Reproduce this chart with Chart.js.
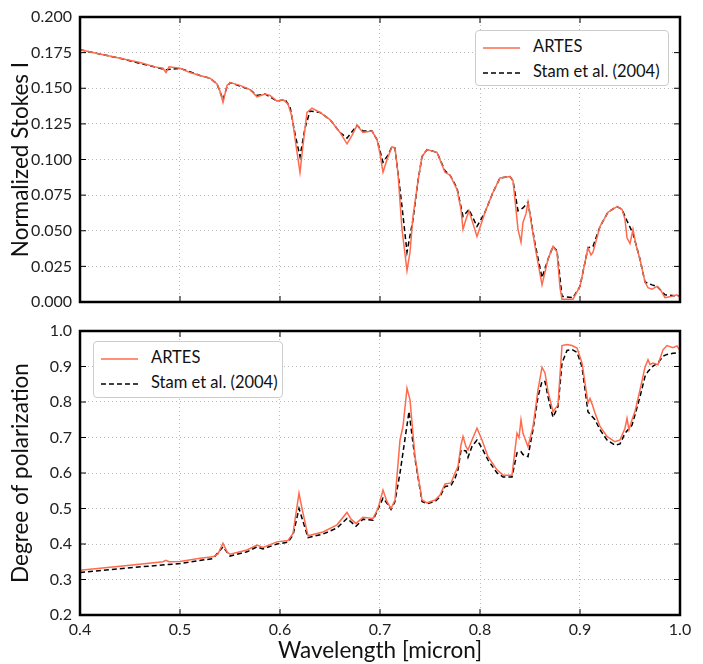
<!DOCTYPE html>
<html>
<head>
<meta charset="utf-8">
<script src="https://cdn.jsdelivr.net/npm/chart.js@4"></script>
<style>
  body { margin: 0; background: #fff; font-family: Lato, sans-serif; }
  #wrap { position: relative; width: 703px; height: 664px; }
  .panel { position: absolute; left: 0; width: 703px; }
  .legend { position: absolute; background: #fff; border: 1px solid #ccc; border-radius: 4px; white-space: nowrap;
            font-size: 16.5px; color: #111; padding: 3px 6px 3px 7px; line-height: 25px; box-sizing: border-box; }
  .legend svg { vertical-align: middle; margin-right: 13px; }
</style>
</head>
<body>
<div id="wrap">
  <div class="panel" style="top:0;height:310px"><canvas id="stokesChart"></canvas></div>
  <div class="panel" style="top:320px;height:344px"><canvas id="polChart"></canvas></div>
  <div class="legend" style="left:475px;top:30px;width:194px;height:56px">
    <div><svg width="37" height="4"><line x1="0" y1="2" x2="37" y2="2" stroke="#ff6a4d" stroke-width="1.5"/></svg>ARTES</div>
    <div><svg width="37" height="4"><line x1="0" y1="2" x2="37" y2="2" stroke="#000" stroke-width="1.5" stroke-dasharray="5,3"/></svg>Stam et al. (2004)</div>
  </div>
  <div class="legend" style="left:93px;top:341px;width:190px;height:57px">
    <div><svg width="37" height="4"><line x1="0" y1="2" x2="37" y2="2" stroke="#ff6a4d" stroke-width="1.5"/></svg>ARTES</div>
    <div><svg width="37" height="4"><line x1="0" y1="2" x2="37" y2="2" stroke="#000" stroke-width="1.5" stroke-dasharray="5,3"/></svg>Stam et al. (2004)</div>
  </div>
</div>
<script>
// Top panel: normalized Stokes I
const stokesArtesX = [0.400,0.420,0.440,0.460,0.475,0.483,0.486,0.489,0.500,0.510,0.520,0.530,0.537,0.540,0.543,0.547,0.550,0.560,0.570,0.577,0.585,0.590,0.597,0.603,0.608,0.612,0.616,0.620,0.623,0.627,0.632,0.640,0.650,0.660,0.667,0.672,0.677,0.683,0.692,0.697,0.700,0.703,0.707,0.712,0.715,0.718,0.722,0.727,0.730,0.733,0.738,0.742,0.747,0.757,0.765,0.770,0.777,0.781,0.783,0.786,0.789,0.793,0.797,0.805,0.813,0.820,0.830,0.833,0.836,0.838,0.841,0.843,0.846,0.848,0.855,0.862,0.868,0.873,0.877,0.880,0.882,0.893,0.900,0.908,0.911,0.913,0.920,0.928,0.937,0.942,0.945,0.947,0.950,0.953,0.956,0.960,0.965,0.968,0.972,0.977,0.981,0.985,0.992,0.997,1.000];
const stokesArtesY = [0.177,0.174,0.171,0.168,0.165,0.164,0.161,0.165,0.164,0.161,0.159,0.157,0.153,0.148,0.140,0.152,0.154,0.152,0.149,0.144,0.146,0.145,0.141,0.142,0.139,0.130,0.110,0.091,0.110,0.133,0.136,0.133,0.128,0.119,0.111,0.117,0.124,0.119,0.120,0.114,0.104,0.091,0.100,0.109,0.108,0.090,0.051,0.022,0.035,0.060,0.085,0.102,0.107,0.105,0.091,0.089,0.079,0.065,0.051,0.058,0.064,0.055,0.046,0.063,0.077,0.087,0.088,0.085,0.065,0.051,0.042,0.056,0.062,0.070,0.039,0.012,0.030,0.039,0.035,0.010,0.002,0.002,0.011,0.038,0.033,0.035,0.053,0.063,0.067,0.065,0.058,0.045,0.041,0.051,0.040,0.030,0.014,0.010,0.009,0.011,0.008,0.003,0.004,0.005,0.003];
const stokesStamX = [0.400,0.440,0.480,0.486,0.500,0.520,0.530,0.537,0.543,0.547,0.550,0.570,0.577,0.585,0.597,0.605,0.610,0.615,0.620,0.625,0.630,0.640,0.650,0.660,0.667,0.677,0.683,0.692,0.697,0.703,0.708,0.712,0.715,0.722,0.727,0.733,0.738,0.742,0.747,0.757,0.765,0.770,0.777,0.783,0.789,0.797,0.805,0.813,0.820,0.830,0.833,0.838,0.843,0.848,0.855,0.862,0.868,0.873,0.877,0.882,0.893,0.900,0.908,0.913,0.920,0.928,0.937,0.942,0.947,0.953,0.960,0.965,0.972,0.977,0.985,1.000];
const stokesStamY = [0.177,0.171,0.164,0.163,0.164,0.159,0.157,0.153,0.142,0.151,0.154,0.149,0.145,0.146,0.141,0.142,0.137,0.118,0.102,0.122,0.134,0.133,0.128,0.119,0.115,0.124,0.120,0.120,0.114,0.098,0.103,0.109,0.108,0.067,0.035,0.058,0.085,0.102,0.107,0.105,0.092,0.089,0.080,0.060,0.065,0.053,0.063,0.077,0.087,0.088,0.085,0.064,0.066,0.070,0.041,0.017,0.030,0.039,0.036,0.004,0.003,0.011,0.038,0.039,0.053,0.063,0.067,0.065,0.057,0.048,0.030,0.014,0.012,0.011,0.005,0.004];

// Bottom panel: degree of polarization
const polArtesX = [0.400,0.450,0.483,0.486,0.489,0.500,0.520,0.533,0.538,0.543,0.547,0.550,0.567,0.577,0.583,0.597,0.608,0.613,0.619,0.622,0.628,0.643,0.657,0.667,0.671,0.676,0.683,0.693,0.698,0.703,0.707,0.711,0.715,0.720,0.723,0.727,0.730,0.735,0.742,0.747,0.755,0.760,0.765,0.771,0.775,0.778,0.781,0.783,0.786,0.788,0.792,0.797,0.802,0.808,0.817,0.823,0.832,0.837,0.839,0.841,0.843,0.848,0.853,0.858,0.862,0.865,0.868,0.873,0.878,0.882,0.887,0.892,0.897,0.902,0.908,0.910,0.912,0.915,0.920,0.927,0.935,0.940,0.945,0.947,0.949,0.952,0.955,0.960,0.965,0.968,0.970,0.973,0.978,0.983,0.987,0.993,0.997,1.000];
const polArtesY = [0.326,0.340,0.350,0.354,0.350,0.351,0.360,0.364,0.372,0.402,0.378,0.371,0.383,0.397,0.390,0.406,0.410,0.430,0.543,0.500,0.423,0.434,0.454,0.489,0.470,0.458,0.475,0.472,0.500,0.552,0.519,0.500,0.524,0.693,0.731,0.839,0.806,0.646,0.524,0.516,0.524,0.538,0.569,0.572,0.600,0.618,0.679,0.703,0.674,0.665,0.693,0.726,0.693,0.646,0.609,0.594,0.594,0.712,0.700,0.750,0.712,0.674,0.731,0.834,0.898,0.882,0.830,0.773,0.792,0.959,0.962,0.959,0.952,0.910,0.797,0.810,0.795,0.769,0.731,0.703,0.688,0.693,0.726,0.754,0.722,0.750,0.773,0.834,0.898,0.919,0.906,0.910,0.905,0.947,0.959,0.953,0.958,0.944];
const polStamX = [0.400,0.450,0.500,0.533,0.543,0.550,0.567,0.577,0.583,0.597,0.608,0.613,0.619,0.628,0.643,0.657,0.667,0.676,0.683,0.693,0.703,0.707,0.711,0.715,0.720,0.729,0.735,0.742,0.747,0.755,0.760,0.765,0.771,0.775,0.778,0.781,0.786,0.788,0.792,0.797,0.802,0.808,0.817,0.823,0.832,0.837,0.841,0.843,0.848,0.853,0.858,0.862,0.865,0.868,0.873,0.878,0.882,0.887,0.892,0.897,0.902,0.908,0.915,0.920,0.927,0.935,0.940,0.945,0.952,0.955,0.960,0.965,0.968,0.973,0.978,0.983,0.987,0.993,1.000];
const polStamY = [0.320,0.333,0.345,0.359,0.392,0.366,0.378,0.392,0.386,0.400,0.405,0.425,0.500,0.418,0.428,0.445,0.472,0.450,0.470,0.467,0.529,0.515,0.497,0.520,0.600,0.773,0.640,0.520,0.513,0.520,0.533,0.562,0.565,0.585,0.609,0.665,0.662,0.644,0.675,0.693,0.670,0.637,0.600,0.589,0.589,0.657,0.660,0.652,0.646,0.722,0.815,0.858,0.858,0.815,0.757,0.787,0.910,0.945,0.948,0.940,0.899,0.772,0.750,0.722,0.693,0.678,0.682,0.712,0.735,0.764,0.815,0.872,0.886,0.901,0.910,0.929,0.934,0.937,0.940];

const pts = (xs, ys) => xs.map((x, i) => ({x: x, y: ys[i]}));
const artesColor = '#ff6a4d';
const fontFamily = 'Lato, sans-serif';

// thick frame plus matplotlib-style inward ticks on all four sides
const framePlugin = {
  id: 'frame',
  afterDraw(chart) {
    const {ctx, chartArea: a, scales} = chart;
    ctx.save();
    ctx.strokeStyle = '#000';
    ctx.lineWidth = 1;
    scales.x.ticks.forEach(t => {
      const px = scales.x.getPixelForValue(t.value);
      ctx.beginPath();
      ctx.moveTo(px, a.bottom); ctx.lineTo(px, a.bottom - 6);
      ctx.moveTo(px, a.top); ctx.lineTo(px, a.top + 6);
      ctx.stroke();
    });
    scales.y.ticks.forEach(t => {
      const py = scales.y.getPixelForValue(t.value);
      ctx.beginPath();
      ctx.moveTo(a.left, py); ctx.lineTo(a.left + 6, py);
      ctx.moveTo(a.right, py); ctx.lineTo(a.right - 6, py);
      ctx.stroke();
    });
    ctx.lineWidth = 2.5;
    ctx.strokeRect(a.left, a.top, a.right - a.left, a.bottom - a.top);
    ctx.restore();
  }
};

function makeChart(id, artes, stam, yOpts, showX, padding) {
  return new Chart(document.getElementById(id).getContext('2d'), {
    type: 'line',
    data: {
      datasets: [
        { label: 'ARTES', data: artes, borderColor: artesColor, borderWidth: 1.5, pointRadius: 0, tension: 0 },
        { label: 'Stam et al. (2004)', data: stam, borderColor: '#000', borderWidth: 1.5, borderDash: [5, 3], pointRadius: 0, tension: 0 }
      ]
    },
    options: {
      responsive: true,
      maintainAspectRatio: false,
      animation: false,
      layout: { padding: padding },
      plugins: { legend: { display: false }, tooltip: { enabled: false } },
      scales: {
        x: {
          type: 'linear', min: 0.4, max: 1.0,
          ticks: { display: showX, stepSize: 0.1, padding: 5, color: '#222',
                   font: { family: fontFamily, size: 16 }, callback: v => v.toFixed(1) },
          grid: { color: '#bbb', drawTicks: false },
          border: { display: false, dash: [1, 3] },
          title: { display: showX, text: 'Wavelength [micron]', color: '#111',
                   font: { family: fontFamily, size: 22.5 }, padding: 0 },
          afterFit: s => { s.height = showX ? 49 : 0; s.paddingLeft = 0; s.paddingRight = 0; }
        },
        y: {
          min: yOpts.min, max: yOpts.max,
          ticks: { stepSize: yOpts.step, padding: 8, color: '#222',
                   font: { family: fontFamily, size: 16 }, callback: v => v.toFixed(yOpts.digits) },
          grid: { color: '#bbb', drawTicks: false },
          border: { display: false, dash: [1, 3] },
          title: { display: true, text: yOpts.title, color: '#111',
                   font: { family: fontFamily, size: 22.5 }, padding: { top: 7, bottom: 0 } },
          afterFit: s => { s.width = 80; s.paddingTop = 0; s.paddingBottom = 0; }
        }
      }
    },
    plugins: [framePlugin]
  });
}

makeChart('stokesChart', pts(stokesArtesX, stokesArtesY), pts(stokesStamX, stokesStamY),
  { min: 0, max: 0.2, step: 0.025, digits: 3, title: 'Normalized Stokes I' },
  false, { top: 17, right: 23, bottom: 8, left: 0 });

makeChart('polChart', pts(polArtesX, polArtesY), pts(polStamX, polStamY),
  { min: 0.2, max: 1.0, step: 0.1, digits: 1, title: 'Degree of polarization' },
  true, { top: 11, right: 23, bottom: 0, left: 0 });
</script>
</body>
</html>
